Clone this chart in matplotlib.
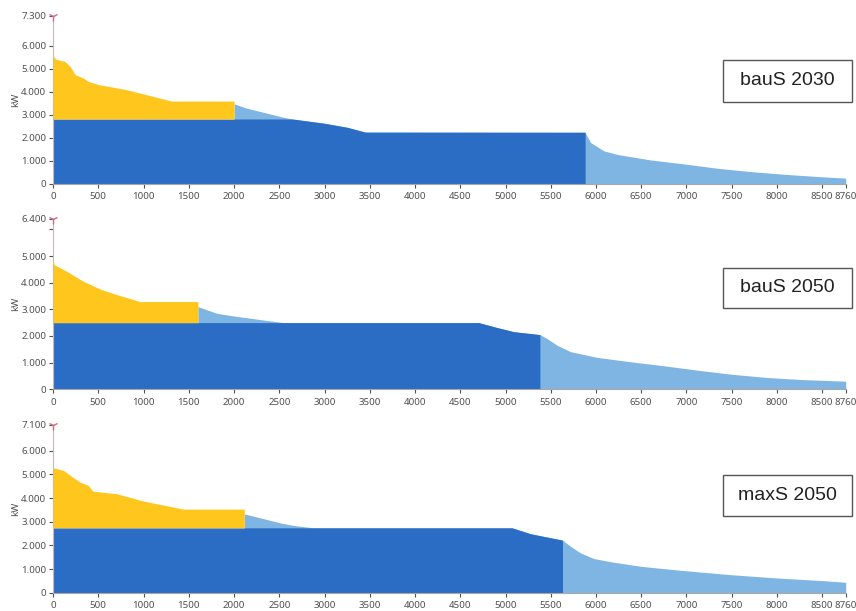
import matplotlib.pyplot as plt
from matplotlib.patches import Rectangle

plt.rcParams['font.family'] = ['Noto Sans', 'DejaVu Sans']

DARK = '#2b6cc4'
LIGHT = '#7fb5e3'
YELLOW = '#ffc61e'

scenarios = ['bauS 2030', 'bauS 2050', 'maxS 2050']
y_tops = [7300, 6400, 7100]

# bauS 2030
peak_h_a = [0, 30, 130, 190, 245, 335, 390, 520, 780, 1000, 1310, 2000]
peak_kw_a = [5570, 5420, 5320, 5100, 4740, 4600, 4450, 4300, 4120, 3910, 3600, 3600]
base_level_a = 2820
base_h_a = [0, 2650, 2990, 3250, 3450, 5880]
base_kw_a = [2820, 2820, 2640, 2460, 2250, 2250]
rest_h_a = [2000, 2140, 2510, 2650, 2990, 3250, 3450, 5880, 5940, 6085, 6235,
            6605, 6970, 7340, 7710, 8075, 8450, 8760]
rest_kw_a = [3480, 3290, 2930, 2810, 2640, 2460, 2250, 2230, 1800, 1440, 1280,
             1040, 870, 680, 535, 420, 320, 250]

# bauS 2050
peak_h_b = [0, 10, 150, 335, 520, 705, 962, 1600]
peak_kw_b = [4970, 4680, 4430, 4050, 3760, 3550, 3290, 3290]
base_level_b = 2500
base_h_b = [0, 2545, 4705, 4907, 5091, 5380]
base_kw_b = [2500, 2500, 2500, 2315, 2160, 2050]
rest_h_b = [1600, 1810, 1995, 2363, 2545, 4705, 4907, 5091, 5380, 5460, 5570,
            5718, 6013, 6382, 6750, 7120, 7488, 7890, 8260, 8760]
rest_kw_b = [3100, 2850, 2750, 2580, 2500, 2500, 2315, 2160, 2050, 1900, 1650,
             1410, 1195, 1030, 880, 715, 565, 440, 365, 300]

# maxS 2050
peak_h_c = [0, 114, 225, 299, 390, 439, 705, 1000, 1442, 2113]
peak_kw_c = [5280, 5170, 4860, 4670, 4530, 4290, 4180, 3870, 3530, 3530]
base_level_c = 2740
base_h_c = [0, 2880, 5073, 5276, 5630]
base_kw_c = [2740, 2740, 2740, 2490, 2220]
rest_h_c = [2113, 2364, 2510, 2659, 2880, 5073, 5276, 5630, 5718, 5829, 5976,
            6197, 6492, 6935, 7488, 8000, 8500, 8760]
rest_kw_c = [3330, 3090, 2950, 2840, 2740, 2740, 2490, 2220, 1960, 1680, 1440,
             1285, 1115, 945, 760, 620, 510, 440]

x_ticks = [0, 500, 1000, 1500, 2000, 2500, 3000, 3500, 4000, 4500, 5000,
           5500, 6000, 6500, 7000, 7500, 8000, 8500, 8760]

panels = [
    (peak_h_a, peak_kw_a, base_level_a, base_h_a, base_kw_a, rest_h_a, rest_kw_a),
    (peak_h_b, peak_kw_b, base_level_b, base_h_b, base_kw_b, rest_h_b, rest_kw_b),
    (peak_h_c, peak_kw_c, base_level_c, base_h_c, base_kw_c, rest_h_c, rest_kw_c),
]

# axes boxes in figure fractions (left, bottom, width, height)
axes_pos = [
    [0.062, 0.699, 0.926, 0.275],
    [0.062, 0.363, 0.926, 0.279],
    [0.062, 0.030, 0.926, 0.275],
]
box_pos = [
    [0.845, 0.833, 0.150, 0.069],
    [0.845, 0.496, 0.150, 0.066],
    [0.845, 0.156, 0.150, 0.067],
]

fig = plt.figure(figsize=(8.56, 6.11), dpi=100)


def thousands(v):
    return f"{int(round(v)):,}".replace(',', '.')


for i, (peak_h, peak_kw, base_level, base_h, base_kw, rest_h, rest_kw) in enumerate(panels):
    ax = fig.add_axes(axes_pos[i])
    top = y_tops[i]

    ax.fill_between(rest_h, 0, rest_kw, color=LIGHT, linewidth=0, zorder=1)
    ax.fill_between(base_h, 0, base_kw, color=DARK, linewidth=0, zorder=2)
    ax.fill_between(peak_h, base_level, peak_kw, color=YELLOW, linewidth=0, zorder=3)

    ax.set_xlim(0, 8760)
    ax.set_ylim(0, top)
    ax.set_xticks(x_ticks)
    ax.set_xticklabels([str(t) for t in x_ticks])

    yt = [0, 1000, 2000, 3000, 4000, 5000, 6000, top]
    ax.set_yticks(yt)
    labels = [thousands(v) for v in yt]
    if top - 6000 < 500:
        labels[6] = ''
    ax.set_yticklabels(labels)

    for side in ['top', 'right']:
        ax.spines[side].set_visible(False)
    ax.spines['left'].set_color('#c8b8bc')
    ax.spines['bottom'].set_color('#a8a8a8')
    ax.tick_params(axis='both', labelsize=7, colors='#505050', length=3, width=0.8)
    ax.tick_params(axis='y', pad=2)
    ax.tick_params(axis='x', pad=3)

    ax.set_ylabel('kW', fontsize=7, color='#505050')
    ax.yaxis.set_label_coords(-0.041, 0.5)

    # small marker at top of the value axis
    ax.plot([0], [top], marker='1', markersize=7, color='#d06a80',
            clip_on=False, zorder=5)

    bx = box_pos[i]
    fig.patches.append(Rectangle((bx[0], bx[1]), bx[2], bx[3], transform=fig.transFigure,
                                 facecolor='white', edgecolor='#555555', linewidth=1))
    fig.text(bx[0] + bx[2] / 2, bx[1] + bx[3] / 2, scenarios[i], fontsize=14,
             family='Liberation Sans', color='#222222', ha='center', va='center')

fig.savefig('out.png', dpi=100)
